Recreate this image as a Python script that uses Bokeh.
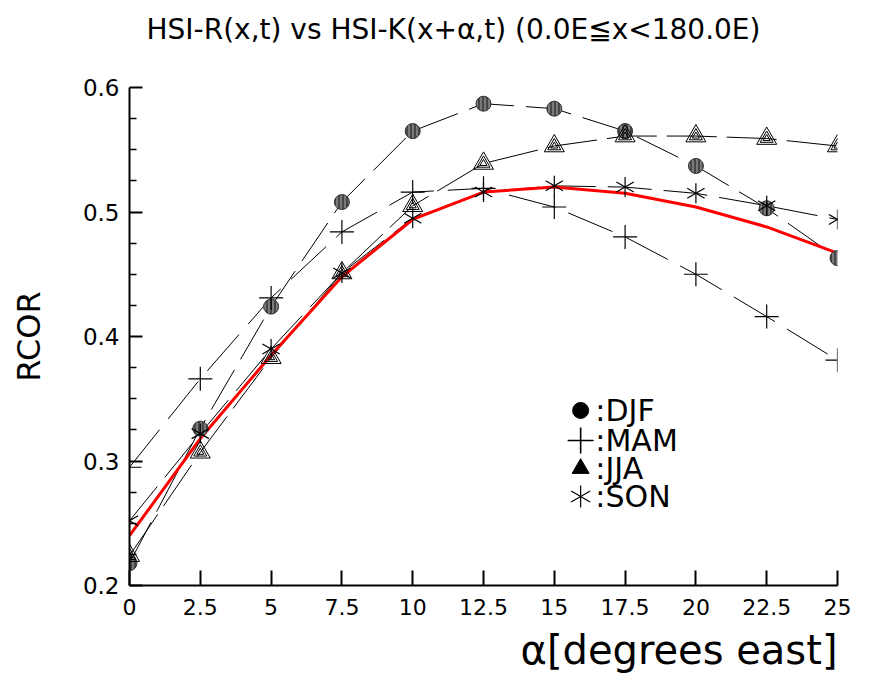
from bokeh.plotting import figure
from bokeh.models import Range1d, FixedTicker, Label, Title
from bokeh.embed import file_html
from bokeh.resources import INLINE
import math

alpha = [0, 2.5, 5, 7.5, 10, 12.5, 15, 17.5, 20, 22.5, 25]
djf = [0.218, 0.326, 0.424, 0.508, 0.565, 0.587, 0.583, 0.565, 0.537, 0.503, 0.463]
mam = [0.295, 0.366, 0.431, 0.484, 0.516, 0.519, 0.504, 0.480, 0.450, 0.416, 0.381]
jja = [0.224, 0.307, 0.383, 0.451, 0.505, 0.539, 0.553, 0.561, 0.561, 0.559, 0.553]
son = [0.252, 0.322, 0.390, 0.451, 0.495, 0.516, 0.521, 0.520, 0.515, 0.505, 0.494]
fit = [0.240, 0.318, 0.385, 0.448, 0.494, 0.516, 0.520, 0.515, 0.504, 0.488, 0.467]

x_ticks = [0, 2.5, 5, 7.5, 10, 12.5, 15, 17.5, 20, 22.5, 25]
x_tick_labels = ["0", "2.5", "5", "7.5", "10", "12.5", "15", "17.5", "20", "22.5", "25"]
y_ticks = [0.2, 0.3, 0.4, 0.5, 0.6]
y_minor = [0.225, 0.25, 0.275, 0.325, 0.35, 0.375, 0.425, 0.45, 0.475, 0.525, 0.55, 0.575]

title_text = "HSI-R(x,t) vs HSI-K(x+\u03b1,t) (0.0E\u2266x<180.0E)"
x_title = "\u03b1[degrees east]"
y_title = "RCOR"
seasons = [":DJF", ":MAM", ":JJA", ":SON"]

FONT = "DejaVu Sans"

p = figure(width=880, height=687, output_backend="svg", toolbar_location=None,
           x_range=Range1d(0, 25), y_range=Range1d(0.2, 0.6),
           min_border_left=129, min_border_right=43, min_border_top=87, min_border_bottom=102)
p.outline_line_color = None
p.xgrid.visible = False
p.ygrid.visible = False
p.background_fill_color = "white"

p.title.text = title_text + "\n"
p.title.align = "left"
p.title.offset = 17
p.title.standoff = 18
p.title.text_font = FONT
p.title.text_font_size = "28px"
p.title.text_font_style = "normal"
p.title.text_color = "black"

for ax in (p.xaxis[0], p.yaxis[0]):
    ax.axis_line_width = 2
    ax.major_tick_line_width = 2
    ax.minor_tick_line_width = 1.5
    ax.major_label_text_font = FONT
    ax.major_label_text_font_size = "22px"
    ax.major_label_text_color = "black"
    ax.axis_line_color = "black"
    ax.major_tick_line_color = "black"
    ax.minor_tick_line_color = "black"

p.xaxis.ticker = FixedTicker(ticks=x_ticks)
p.xaxis.major_label_overrides = {t: l for t, l in zip(x_ticks, x_tick_labels)}
p.xaxis.major_tick_in = 15
p.xaxis.major_tick_out = 0
p.xaxis.minor_tick_in = 0
p.xaxis.minor_tick_out = 0
p.xaxis.major_label_standoff = 13

p.yaxis.ticker = FixedTicker(ticks=y_ticks, minor_ticks=y_minor)
p.yaxis.major_label_overrides = {t: "%.1f" % t for t in y_ticks}
p.yaxis.major_label_text_font_size = "23px"
p.yaxis.major_tick_in = 13
p.yaxis.major_tick_out = 0
p.yaxis.minor_tick_in = 7
p.yaxis.minor_tick_out = 0
p.yaxis.major_label_standoff = 10
p.yaxis.axis_label = y_title
p.yaxis.axis_label_text_font = FONT
p.yaxis.axis_label_text_font_size = "32px"
p.yaxis.axis_label_text_font_style = "normal"
p.yaxis.axis_label_text_color = "black"
p.yaxis.axis_label_standoff = 32

p.add_layout(Title(text=x_title, align="right", text_font=FONT, text_font_size="40px",
                   text_font_style="normal", text_color="black", standoff=14), "below")

# series lines
p.line(alpha, djf, line_color="black", line_width=1.0, line_dash="46 12")
p.line(alpha, mam, line_color="black", line_width=1.0, line_dash="48 14")
p.line(alpha, jja, line_color="black", line_width=1.0, line_dash="50 10")
p.line(alpha, son, line_color="black", line_width=1.0, line_dash="44 12")
p.line(alpha, fit, line_color="red", line_width=3)


def circle_marker(xs, ys):
    p.scatter(xs, ys, marker="circle", size=15, fill_color="#7a7a7a", line_color="#333333",
              line_width=1, hatch_pattern="|", hatch_color="#111111", hatch_scale=4, hatch_weight=1)


def plus_marker(xs, ys):
    p.scatter(xs, ys, marker="cross", size=24, line_color="black", line_width=1.2)


def tri_marker(xs, ys):
    for s in (20, 13, 7):
        p.scatter(xs, ys, marker="triangle", size=s, fill_color=None, line_color="black", line_width=1)


def star_marker(xs, ys, s=20):
    for ang in (math.pi / 2, math.pi / 6, -math.pi / 6):
        p.scatter(xs, ys, marker="dash", size=s, angle=ang, line_color="black", line_width=1.2)


circle_marker(alpha, djf)
plus_marker(alpha, mam)
tri_marker(alpha, jja)
star_marker(alpha, son)

# legend
lx = 15.93
tx = 16.45
ly = [0.3406, 0.3165, 0.294, 0.2715]
p.scatter([lx], [ly[0]], marker="circle", size=16, fill_color="black", line_color="black")
p.scatter([lx], [ly[1]], marker="cross", size=26, line_color="black", line_width=1.6)
for s in (17, 11, 5):
    p.scatter([lx], [ly[2]], marker="triangle", size=s, fill_color="black", line_color="black", line_width=1)
star_marker([lx], [ly[3]], s=22)
for y, t in zip(ly, seasons):
    p.add_layout(Label(x=tx, y=y, text=t, text_font=FONT, text_font_size="30px",
                       text_baseline="middle", text_align="left", text_color="black"))

open("out.html", "w").write(file_html(p, INLINE))
